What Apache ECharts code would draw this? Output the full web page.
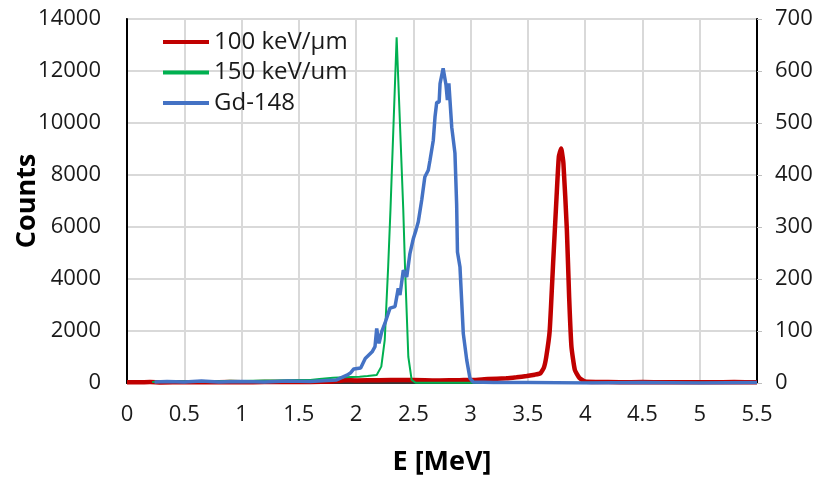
<!DOCTYPE html>
<html>
<head>
<meta charset="utf-8">
<script src="https://cdn.jsdelivr.net/npm/echarts@6/dist/echarts.min.js"></script>
<style>
  html, body { margin: 0; padding: 0; background: #fff; }
  #chart { width: 815px; height: 479px; }
</style>
</head>
<body>
<div id="chart"></div>
<script>
// energy [MeV] and counts
var redE = [0, 0.1, 0.2, 0.3, 0.5, 0.7, 0.9, 1.1, 1.3, 1.5, 1.7, 1.8, 1.9, 2.0, 2.2, 2.4, 2.6, 2.73, 2.9, 3.02, 3.15, 3.31, 3.4, 3.49, 3.56, 3.61, 3.64, 3.66, 3.69, 3.72, 3.75, 3.77, 3.79, 3.81, 3.84, 3.86, 3.88, 3.91, 3.95, 4.0, 4.1, 4.3, 4.5, 4.7, 4.9, 5.1, 5.3, 5.5];
var redCounts = [30, 25, 35, 20, 30, 25, 35, 30, 40, 35, 45, 60, 110, 100, 110, 120, 105, 95, 110, 115, 150, 180, 220, 270, 320, 380, 600, 1000, 2000, 4600, 7150, 8700, 9020, 8450, 5900, 3300, 1400, 500, 190, 60, 40, 30, 35, 30, 25, 30, 35, 30];

var greenE = [0.22, 0.3, 0.4, 0.5, 0.6, 0.7, 0.8, 0.9, 1.0, 1.1, 1.2, 1.3, 1.4, 1.5, 1.6, 1.68, 1.8, 1.9, 2.03, 2.1, 2.18, 2.22, 2.25, 2.28, 2.30, 2.354, 2.412, 2.427, 2.456, 2.485, 2.52, 2.7, 3.0, 3.5, 4.0, 4.5, 5.0, 5.5];
var greenCounts = [40, 60, 50, 70, 60, 80, 70, 90, 80, 90, 100, 95, 110, 120, 115, 150, 200, 220, 240, 270, 310, 630, 1650, 4470, 6650, 13300, 6650, 4470, 1010, 120, 10, 5, 5, 0, 5, 0, 5, 0];

// Gd-148 is read against the right-hand axis
var gdE = [0.24, 0.35, 0.5, 0.65, 0.8, 1.0, 1.2, 1.4, 1.6, 1.75, 1.83, 1.92, 1.95, 1.98, 2.04, 2.06, 2.08, 2.14, 2.165, 2.18, 2.20, 2.224, 2.252, 2.296, 2.34, 2.368, 2.383, 2.412, 2.442, 2.47, 2.50, 2.523, 2.543, 2.573, 2.60, 2.63, 2.645, 2.674, 2.689, 2.704, 2.725, 2.733, 2.76, 2.785, 2.797, 2.81, 2.835, 2.863, 2.878, 2.885, 2.907, 2.936, 2.966, 2.994, 3.023, 3.2, 3.5, 4.0, 4.5, 5.0, 5.5];
var gdCounts = [2, 3, 2, 4, 2, 3, 2, 4, 3, 5, 6, 15, 19, 27, 29, 38, 47, 60, 70, 105, 76, 99, 115, 144, 147, 182, 169, 217, 204, 249, 278, 294, 310, 352, 396, 409, 428, 467, 512, 540, 540, 576, 605, 573, 544, 576, 492, 442, 342, 252, 223, 95, 44, 9, 2, 1, 1, 0, 1, 0, 1];

var seriesNames = ['100 keV/µm', '150 keV/um', 'Gd-148'];

var pairs = function (xs, ys) {
    var out = [];
    for (var i = 0; i < Math.min(xs.length, ys.length); i++) {
        out.push([xs[i], ys[i]]);
    }
    return out;
};

var font = 'Open Sans';
var plain = function (v) { return String(v); };
var box = echarts.init(document.getElementById('chart'));
var option = {
    animation: false,
    grid: {
        left: 127,
        right: 58,
        top: 19,
        bottom: 96,
        outerBoundsMode: 'none',
        show: true,
        borderColor: '#000',
        borderWidth: 1.5
    },
    legend: {
        data: seriesNames,
        orient: 'vertical',
        left: 158,
        top: 25,
        icon: 'rect',
        itemWidth: 46,
        itemHeight: 4,
        itemGap: 6.5,
        textStyle: { fontFamily: font, fontSize: 24, color: '#1a1a1a', lineHeight: 24 }
    },
    xAxis: {
        type: 'value',
        min: 0,
        max: 5.5,
        interval: 0.5,
        name: 'E [MeV]',
        nameLocation: 'middle',
        nameGap: 66,
        nameMoveOverlap: false,
        nameTextStyle: { fontFamily: font, fontSize: 27, fontWeight: 'bold', color: '#000' },
        axisLine: { show: true, lineStyle: { color: '#000', width: 1.5 } },
        axisTick: { show: false },
        axisLabel: { fontFamily: font, fontSize: 22, color: '#1a1a1a', margin: 21, formatter: plain },
        splitLine: { show: true, lineStyle: { color: '#d9d9d9', width: 2 } }
    },
    yAxis: [{
        type: 'value',
        min: 0,
        max: 14000,
        interval: 2000,
        name: 'Counts',
        nameLocation: 'middle',
        nameRotate: 90,
        nameGap: 86,
        nameMoveOverlap: false,
        nameTextStyle: { fontFamily: font, fontSize: 27, fontWeight: 'bold', color: '#000' },
        axisLine: { show: true, lineStyle: { color: '#000', width: 2 } },
        axisTick: { show: false },
        axisLabel: { fontFamily: font, fontSize: 22, color: '#1a1a1a', margin: 26, formatter: plain },
        splitLine: { show: true, lineStyle: { color: '#d9d9d9', width: 2 } }
    }, {
        type: 'value',
        min: 0,
        max: 700,
        interval: 100,
        position: 'right',
        axisLine: { show: true, lineStyle: { color: '#000', width: 2 } },
        axisTick: { show: true, length: 5, lineStyle: { color: '#bfbfbf' } },
        axisLabel: { fontFamily: font, fontSize: 22, color: '#1a1a1a', margin: 18, formatter: plain },
        splitLine: { show: false }
    }],
    series: [{
        name: seriesNames[0],
        type: 'line',
        yAxisIndex: 0,
        symbol: 'none',
        smooth: 0.15,
        data: pairs(redE, redCounts),
        lineStyle: { color: '#c00000', width: 4.5 },
        itemStyle: { color: '#c00000' }
    }, {
        name: seriesNames[1],
        type: 'line',
        yAxisIndex: 0,
        symbol: 'none',
        data: pairs(greenE, greenCounts),
        lineStyle: { color: '#00b050', width: 2 },
        itemStyle: { color: '#00b050' }
    }, {
        name: seriesNames[2],
        type: 'line',
        yAxisIndex: 1,
        symbol: 'none',
        data: pairs(gdE, gdCounts),
        lineStyle: { color: '#4472c4', width: 3.5 },
        itemStyle: { color: '#4472c4' }
    }]
};
box.setOption(option);
</script>
</body>
</html>
